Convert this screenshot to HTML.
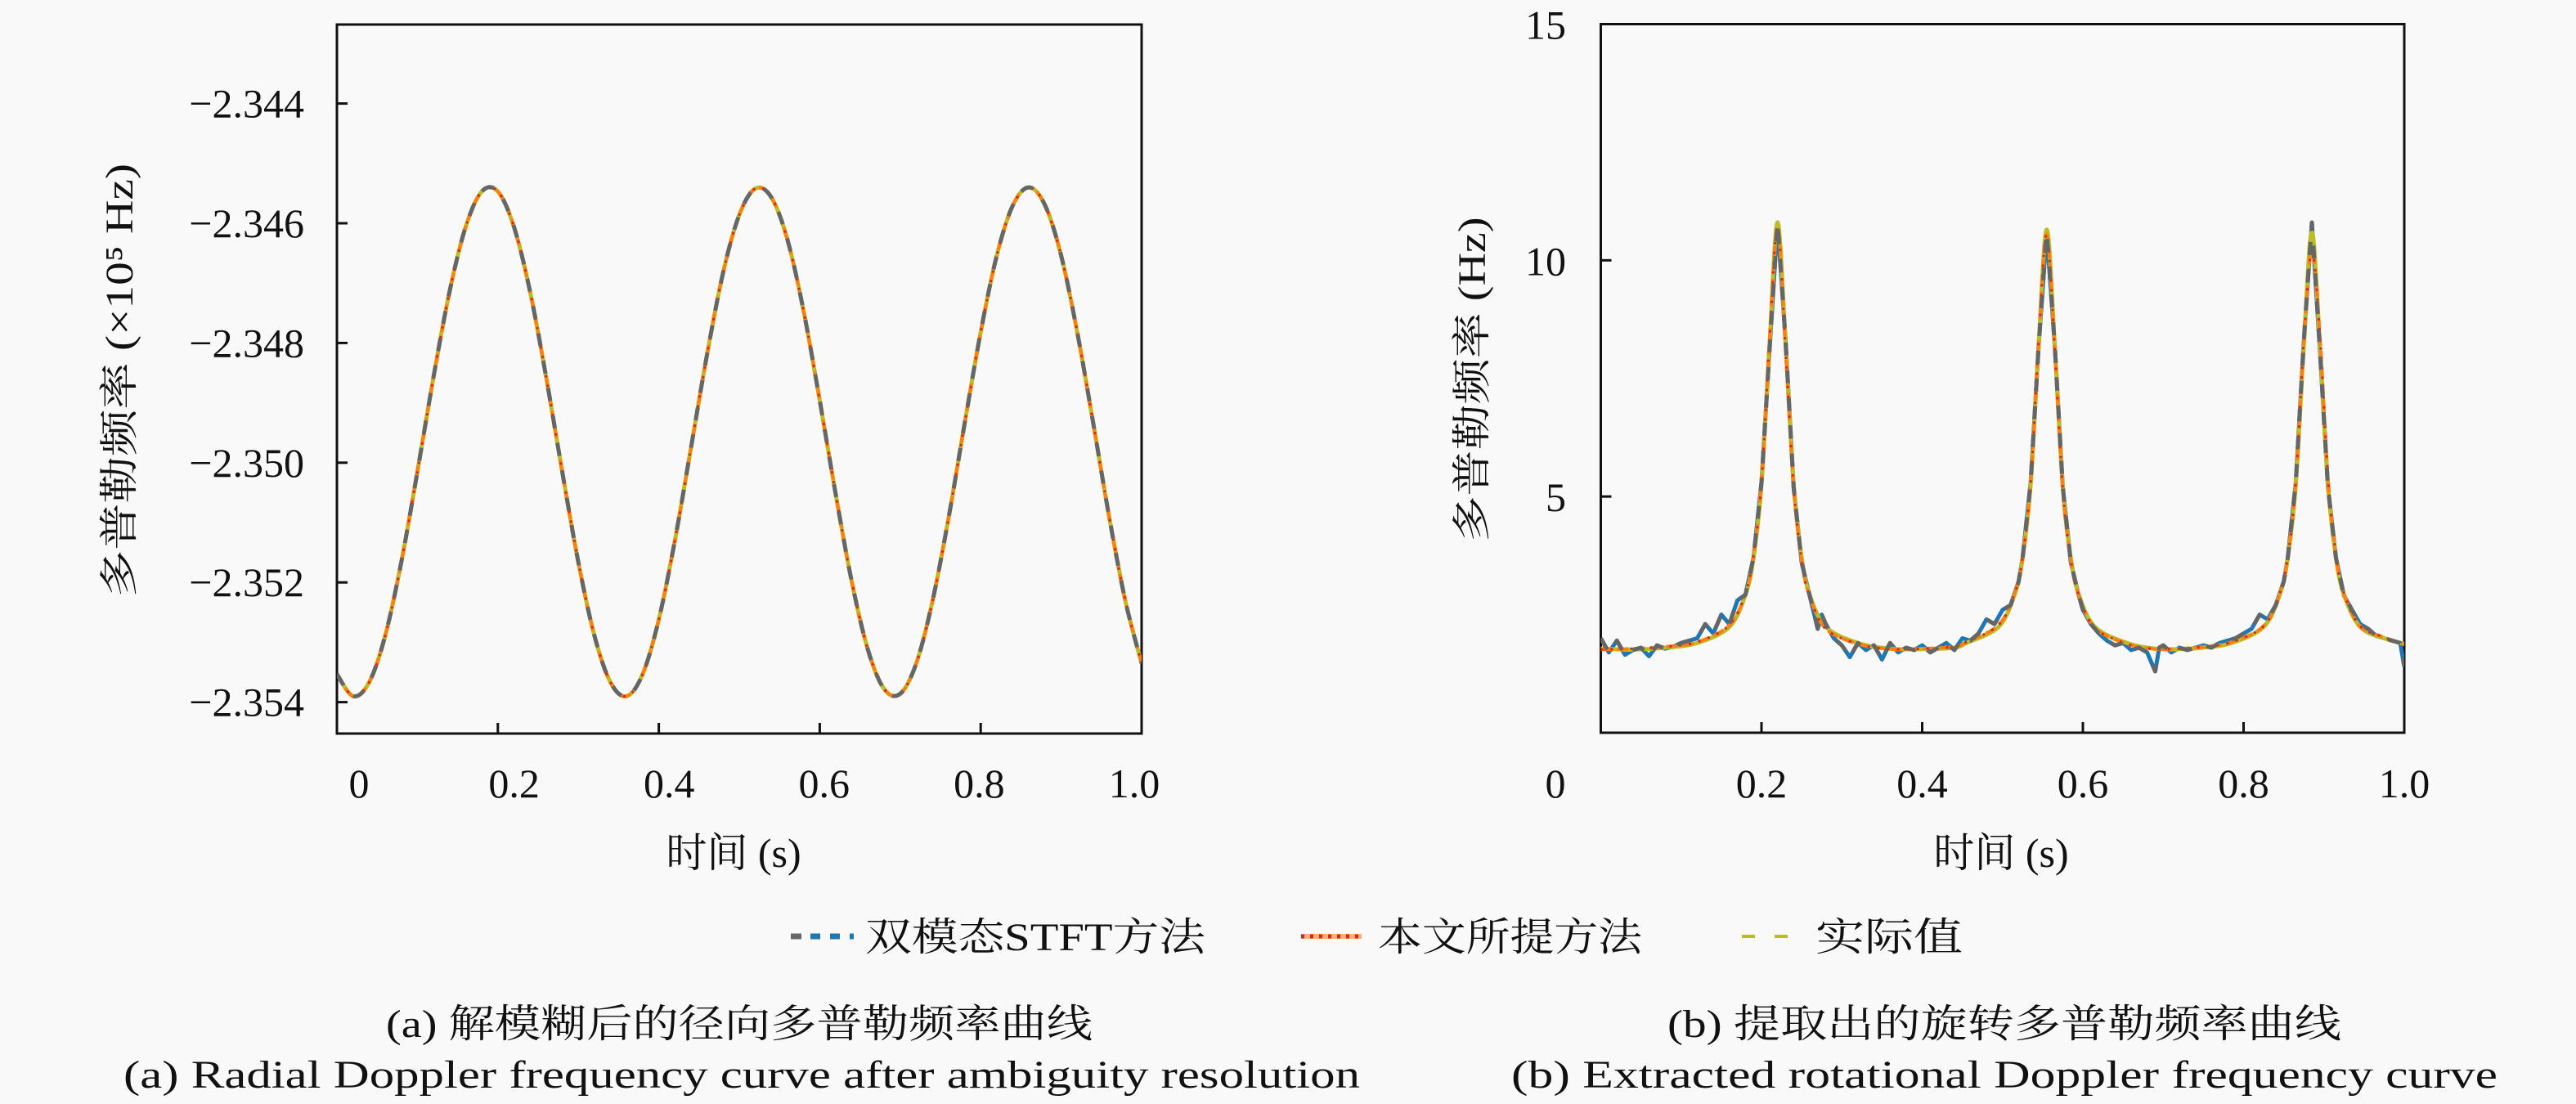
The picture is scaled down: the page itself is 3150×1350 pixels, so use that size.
<!DOCTYPE html>
<html><head><meta charset="utf-8"><style>
html,body{margin:0;padding:0;background:#f9f9f9}
svg{display:block}
text{font-family:"Liberation Serif","Noto Serif CJK SC",serif;fill:#111}
</style></head><body>
<svg id="fig" width="3150" height="1350" viewBox="0 0 3150 1350" xmlns="http://www.w3.org/2000/svg">
<rect x="0" y="0" width="3150" height="1350" fill="#f9f9f9"/>
<g id="left"></g>
<g id="right"></g>
<g>
  <g>
    <line x1="967" y1="1145" x2="1044" y2="1145" stroke="#1f77b4" stroke-width="7" stroke-dasharray="12 12"/>
    <line x1="967" y1="1145" x2="980" y2="1145" stroke="#666" stroke-width="7"/>
    <text x="1058" y="1162" font-size="48" textLength="416" lengthAdjust="spacingAndGlyphs">双模态STFT方法</text>
  </g>
  <g>
    <line x1="1591" y1="1145" x2="1665" y2="1145" stroke="#ffb070" stroke-width="6"/>
    <line x1="1591" y1="1145" x2="1665" y2="1145" stroke="#d62728" stroke-width="5" stroke-dasharray="4 7"/>
    <text x="1685" y="1162" font-size="48" textLength="323" lengthAdjust="spacingAndGlyphs">本文所提方法</text>
  </g>
  <g>
    <line x1="2130" y1="1145" x2="2190" y2="1145" stroke="#bcbd22" stroke-width="4" stroke-dasharray="16 24"/>
    <text x="2220" y="1162" font-size="48" textLength="180" lengthAdjust="spacingAndGlyphs">实际值</text>
  </g>
</g>
<g>
  <text x="904" y="1268" font-size="48" text-anchor="middle" textLength="864" lengthAdjust="spacingAndGlyphs">(a) 解模糊后的径向多普勒频率曲线</text>
  <text x="2451" y="1268" font-size="48" text-anchor="middle" textLength="824" lengthAdjust="spacingAndGlyphs">(b) 提取出的旋转多普勒频率曲线</text>
  <text x="907" y="1330" font-size="48" text-anchor="middle" textLength="1512" lengthAdjust="spacingAndGlyphs">(a) Radial Doppler frequency curve after ambiguity resolution</text>
  <text x="2451" y="1330" font-size="48" text-anchor="middle" textLength="1206" lengthAdjust="spacingAndGlyphs">(b) Extracted rotational Doppler frequency curve</text>
</g>
</svg>
<script>
// ---- Left chart data (×10^5 Hz) ----
const radialTime = [0,0.02,0.04,0.06,0.08,0.10,0.12,0.14,0.16,0.18,0.20,0.22,0.24,0.26,0.28,0.30,0.32,0.34,0.36,0.38,0.40,0.42,0.44,0.46,0.48,0.50,0.52,0.54,0.56,0.58,0.60,0.62,0.64,0.66,0.68,0.70,0.72,0.74,0.76,0.78,0.80,0.82,0.84,0.86,0.88,0.90,0.92,0.94,0.96,0.98,1.00];
const radialActual = [-2.35353,-2.35390,-2.35367,-2.35289,-2.35166,-2.35015,-2.34857,-2.34714,-2.34606,-2.34547,-2.34547,-2.34606,-2.34714,-2.34857,-2.35015,-2.35166,-2.35289,-2.35367,-2.35390,-2.35353,-2.35262,-2.35130,-2.34975,-2.34819,-2.34682,-2.34586,-2.34542,-2.34557,-2.34628,-2.34747,-2.34896,-2.35054,-2.35200,-2.35313,-2.35378,-2.35386,-2.35335,-2.35232,-2.35093,-2.34935,-2.34782,-2.34654,-2.34570,-2.34540,-2.34570,-2.34654,-2.34782,-2.34935,-2.35093,-2.35232,-2.35335];
const radialProposed = radialActual.slice();
const radialStft = radialActual.slice();
const leftYTicks = [-2.344,-2.346,-2.348,-2.350,-2.352,-2.354];
const leftYTickLabels = ["−2.344","−2.346","−2.348","−2.350","−2.352","−2.354"];
const xTicks = [0,0.2,0.4,0.6,0.8,1.0];
const xTickLabels = ["0","0.2","0.4","0.6","0.8","1.0"];

// ---- Right chart data (Hz) ----
const rotTime = [0,0.04,0.08,0.12,0.16,0.18,0.19,0.20,0.21,0.22,0.23,0.24,0.25,0.26,0.28,0.32,0.36,0.40,0.44,0.455,0.495,0.515,0.525,0.535,0.545,0.555,0.565,0.575,0.585,0.595,0.615,0.655,0.69,0.72,0.75,0.785,0.825,0.845,0.855,0.865,0.875,0.885,0.895,0.905,0.915,0.925,0.945,0.975,1.0];
const rotActual = [1.78,1.76,1.80,1.90,2.24,2.92,3.70,5.26,8.22,10.8,8.22,5.26,3.70,2.92,2.24,1.90,1.78,1.77,1.80,1.90,2.24,2.92,3.70,5.26,8.22,10.65,8.20,5.20,3.70,2.92,2.24,1.90,1.78,1.77,1.80,1.90,2.24,2.92,3.70,5.26,8.20,10.6,8.20,5.26,3.70,2.92,2.24,2.00,1.88];
const rotProposed = [1.76,1.78,1.82,1.92,2.28,2.95,3.75,5.30,8.30,10.7,8.10,5.20,3.65,2.88,2.20,1.88,1.77,1.78,1.82,1.92,2.28,2.95,3.72,5.30,8.30,10.55,8.10,5.15,3.66,2.90,2.22,1.88,1.77,1.78,1.82,1.92,2.26,2.95,3.74,5.30,8.30,10.2,8.40,5.40,3.75,2.95,2.26,2.02,1.86];
const stftTime = [0,0.01,0.02,0.03,0.04,0.05,0.06,0.07,0.08,0.09,0.10,0.11,0.12,0.13,0.14,0.15,0.16,0.17,0.18,0.19,0.20,0.21,0.22,0.23,0.24,0.25,0.26,0.27,0.275,0.28,0.29,0.30,0.31,0.32,0.33,0.34,0.35,0.36,0.37,0.38,0.39,0.40,0.41,0.42,0.43,0.44,0.45,0.46,0.47,0.48,0.49,0.50,0.51,0.52,0.525,0.53,0.535,0.545,0.555,0.565,0.575,0.585,0.595,0.60,0.61,0.62,0.63,0.64,0.65,0.66,0.67,0.68,0.69,0.695,0.70,0.71,0.72,0.73,0.74,0.75,0.76,0.77,0.78,0.79,0.80,0.81,0.82,0.83,0.84,0.85,0.855,0.865,0.875,0.885,0.895,0.905,0.915,0.925,0.935,0.945,0.955,0.965,0.975,0.985,0.995,1.0];
const stftValue = [2.0,1.7,1.95,1.65,1.75,1.8,1.62,1.85,1.78,1.82,1.9,1.95,2.0,2.3,2.1,2.5,2.3,2.8,2.92,3.7,5.3,8.1,10.8,8.3,5.2,3.6,2.9,2.2,2.5,2.3,2.0,1.85,1.6,1.9,1.75,1.85,1.55,1.9,1.7,1.8,1.75,1.85,1.7,1.8,1.9,1.75,2.0,1.95,2.1,2.4,2.3,2.6,2.7,3.2,3.7,4.5,5.3,8.2,10.6,8.2,5.2,3.6,2.9,2.6,2.3,2.1,1.95,1.85,1.9,1.75,1.8,1.7,1.3,1.8,1.85,1.7,1.8,1.75,1.8,1.85,1.8,1.9,1.95,2.0,2.1,2.2,2.5,2.4,2.7,3.2,3.7,5.3,8.3,10.8,8.1,5.2,3.7,2.9,2.6,2.3,2.2,2.05,2.0,1.95,1.9,1.4];
const rightYTicks = [5,10,15];
const rightYTickLabels = ["5","10","15"];

const NS = "http://www.w3.org/2000/svg";
function mk(parent, tag, attrs, txt){
  const e = document.createElementNS(NS, tag);
  for (const k in attrs) e.setAttribute(k, attrs[k]);
  if (txt !== undefined) e.textContent = txt;
  parent.appendChild(e);
  return e;
}
function smoothPath(xs, ys){
  let d = "M"+xs[0].toFixed(2)+","+ys[0].toFixed(2);
  for (let i=0;i<xs.length-1;i++){
    const x0=xs[Math.max(0,i-1)], y0=ys[Math.max(0,i-1)];
    const x1=xs[i], y1=ys[i], x2=xs[i+1], y2=ys[i+1];
    const x3=xs[Math.min(xs.length-1,i+2)], y3=ys[Math.min(xs.length-1,i+2)];
    const c1x=x1+(x2-x0)/6, c1y=y1+(y2-y0)/6, c2x=x2-(x3-x1)/6, c2y=y2-(y3-y1)/6;
    d += " C"+c1x.toFixed(2)+","+c1y.toFixed(2)+" "+c2x.toFixed(2)+","+c2y.toFixed(2)+" "+x2.toFixed(2)+","+y2.toFixed(2);
  }
  return d;
}
function linePath(xs, ys){
  return xs.map((x,i)=>(i?"L":"M")+x.toFixed(2)+","+ys[i].toFixed(2)).join(" ");
}

// ===== Left chart =====
(function(){
  const g = document.getElementById("left");
  const L=412,R=1396,T=30,B=897;
  const xs = t => L + t*(R-L);
  const ys = v => 126.6 + (-2.344 - v)/0.001*73.2;
  const lx = t => 439 + t*948;
  const box = mk(g,"rect",{x:L,y:T,width:R-L,height:B-T,fill:"none",stroke:"#111","stroke-width":3});
  
  
  leftYTicks.forEach((v,i)=>{
    const y=ys(v);
    const tk = mk(g,"line",{x1:L,y1:y,x2:L+13,y2:y,stroke:"#111","stroke-width":3});
    
    
    const tl = mk(g,"text",{x:372,y:y+17,"font-size":50,"text-anchor":"end"},leftYTickLabels[i]);
    
    
  });
  xTicks.forEach((v,i)=>{
    const x=xs(v);
    if (i>0 && i<xTicks.length-1){
      const tk = mk(g,"line",{x1:x,y1:B,x2:x,y2:B-13,stroke:"#111","stroke-width":3});
      
      
    }
    const tl = mk(g,"text",{x:lx(v),y:975,"font-size":50,"text-anchor":"middle"},xTickLabels[i]);
    
    
  });
  const xl = mk(g,"text",{x:897,y:1060,"font-size":50,"text-anchor":"middle"},"时间 (s)");
  
  
  const yl = mk(g,"text",{x:0,y:0,"font-size":48,"text-anchor":"middle",transform:"translate(162,465) rotate(-90)",textLength:530,lengthAdjust:"spacingAndGlyphs"},"多普勒频率 (×10⁵ Hz)");
  
  
  const X = radialTime.map(xs);
  const clip = mk(g,"clipPath",{id:"clipL"});
  mk(clip,"rect",{x:L,y:T,width:R-L,height:B-T});
  const lines = mk(g,"g",{"clip-path":"url(#clipL)",fill:"none","stroke-linecap":"butt"});
  const a = mk(lines,"path",{d:smoothPath(X,radialActual.map(ys)),stroke:"#bcbd22","stroke-width":5});
  
  
  const p = mk(lines,"path",{d:smoothPath(X,radialProposed.map(ys)),stroke:"#ff7f0e","stroke-width":4,"stroke-dasharray":"14 6"});
  
  
  const p2 = mk(lines,"path",{d:smoothPath(X,radialProposed.map(ys)),stroke:"#d62728","stroke-width":3,"stroke-dasharray":"3 9"});
  
  
  const s = mk(lines,"path",{d:smoothPath(X,radialStft.map(ys)),stroke:"#666","stroke-width":5,"stroke-dasharray":"16 18"});
  
  
})();

// ===== Right chart =====
(function(){
  const g = document.getElementById("right");
  const L=1957.5,R=2940,T=29.5,B=896;
  const xs = t => L + t*(R-L);
  const ys = v => B - v*(B-T)/15;
  const box = mk(g,"rect",{x:L,y:T,width:R-L,height:B-T,fill:"none",stroke:"#111","stroke-width":3});
  
  
  rightYTicks.forEach((v,i)=>{
    const y=ys(v);
    const tk = mk(g,"line",{x1:L,y1:y,x2:L+13,y2:y,stroke:"#111","stroke-width":3});
    
    
    const tl = mk(g,"text",{x:1915,y:y+18,"font-size":50,"text-anchor":"end"},rightYTickLabels[i]);
    
    
  });
  xTicks.forEach((v,i)=>{
    const x=xs(v);
    if (i>0 && i<xTicks.length-1){
      const tk = mk(g,"line",{x1:x,y1:B,x2:x,y2:B-13,stroke:"#111","stroke-width":3});
      
      
    }
    const lx = i===0 ? 1902 : x;
    const tl = mk(g,"text",{x:lx,y:975,"font-size":50,"text-anchor":"middle"},xTickLabels[i]);
    
    
  });
  const xl = mk(g,"text",{x:2447,y:1060,"font-size":50,"text-anchor":"middle"},"时间 (s)");
  
  
  const yl = mk(g,"text",{x:0,y:0,"font-size":48,"text-anchor":"middle",transform:"translate(1816,464) rotate(-90)",textLength:397,lengthAdjust:"spacingAndGlyphs"},"多普勒频率 (Hz)");
  
  
  const clip = mk(g,"clipPath",{id:"clipR"});
  mk(clip,"rect",{x:L,y:T,width:R-L,height:B-T});
  const lines = mk(g,"g",{"clip-path":"url(#clipR)",fill:"none","stroke-linejoin":"round"});
  const SX = stftTime.map(xs), SY = stftValue.map(ys);
  const sb = mk(lines,"path",{d:linePath(SX,SY),stroke:"#1f77b4","stroke-width":5});
  
  
  const X = rotTime.map(xs);
  const a = mk(lines,"path",{d:smoothPath(X,rotActual.map(ys)),stroke:"#bcbd22","stroke-width":5});
  
  
  const p = mk(lines,"path",{d:smoothPath(X,rotProposed.map(ys)),stroke:"#ff7f0e","stroke-width":4,"stroke-dasharray":"14 6"});
  
  
  const p2 = mk(lines,"path",{d:smoothPath(X,rotProposed.map(ys)),stroke:"#d62728","stroke-width":3,"stroke-dasharray":"3 9"});
  
  
  const sg = mk(lines,"path",{d:linePath(SX,SY),stroke:"#666","stroke-width":5,"stroke-dasharray":"16 18"});
  
  
})();
</script>
</body></html>
